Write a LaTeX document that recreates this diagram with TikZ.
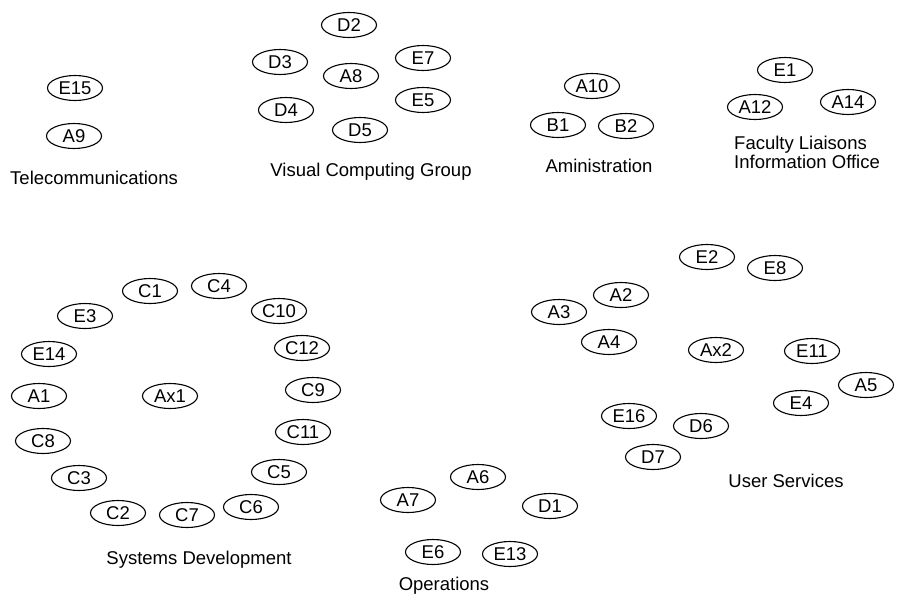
\documentclass[tikz,border=0pt]{standalone}
\usepackage{fontspec}
\setmainfont{Liberation Sans}
\usetikzlibrary{shapes.geometric}
\begin{document}
\begin{tikzpicture}[x=1pt,y=-1pt,
  member/.style={ellipse,draw=black,line width=1.1pt,minimum width=55pt,minimum height=25pt,
    inner sep=0pt,font=\fontsize{18.5}{19}\selectfont},
  group/.style={font=\fontsize{18.5}{19}\selectfont,inner sep=0pt,align=left}]
\useasboundingbox (0,0) rectangle (905,598);

% Telecommunications
\node[member] (E15) at (75,88) {E15};
\node[member] (A9)  at (74,136) {A9};
\node[group] (telecom) at (94,178) {Telecommunications};

% Visual Computing Group
\node[member] (D2) at (349,25) {D2};
\node[member] (D3) at (280,62) {D3};
\node[member] (E7) at (423,58) {E7};
\node[member] (A8) at (351,76) {A8};
\node[member] (E5) at (423,100) {E5};
\node[member] (D4) at (286,110) {D4};
\node[member] (D5) at (360,130) {D5};
\node[group] (vcg) at (371,172) {Visual Computing Group};

% Aministration
\node[member] (A10) at (592,86) {A10};
\node[member] (B1)  at (558,125) {B1};
\node[member] (B2)  at (626,126) {B2};
\node[group] (admin) at (599,166) {Aministration};

% Faculty Liaisons / Information Office
\node[member] (E1)  at (785,70) {E1};
\node[member] (A12) at (755,107) {A12};
\node[member] (A14) at (848,102) {A14};
\node[group,anchor=west] (faculty) at (734,152) {Faculty Liaisons\\Information Office};

% Systems Development
\node[member] (C1)  at (150,291) {C1};
\node[member] (C4)  at (219,286) {C4};
\node[member] (C10) at (279,311) {C10};
\node[member] (E3)  at (85,316) {E3};
\node[member] (C12) at (302,348) {C12};
\node[member] (E14) at (49,354) {E14};
\node[member] (A1)  at (39,396) {A1};
\node[member] (Ax1) at (170,396) {Ax1};
\node[member] (C9)  at (313,390) {C9};
\node[member] (C8)  at (43,441) {C8};
\node[member] (C11) at (303,432) {C11};
\node[member] (C3)  at (79,478) {C3};
\node[member] (C5)  at (279,472) {C5};
\node[member] (C2)  at (118,513) {C2};
\node[member] (C7)  at (187,515) {C7};
\node[member] (C6)  at (251,507) {C6};
\node[group] (sysdev) at (199,560) {Systems Development};

% User Services
\node[member] (E2)  at (707,257) {E2};
\node[member] (E8)  at (775,268) {E8};
\node[member] (A2)  at (621,295) {A2};
\node[member] (A3)  at (559,312) {A3};
\node[member] (A4)  at (609,342) {A4};
\node[member] (Ax2) at (716,350) {Ax2};
\node[member] (E11) at (812,351) {E11};
\node[member] (A5)  at (866,385) {A5};
\node[member] (E4)  at (801,403) {E4};
\node[member] (E16) at (629,416) {E16};
\node[member] (D6)  at (701,426) {D6};
\node[member] (D7)  at (653,457) {D7};
\node[group] (usersvc) at (786,481) {User Services};

% Operations
\node[member] (A6)  at (478,477) {A6};
\node[member] (A7)  at (408,500) {A7};
\node[member] (D1)  at (550,506) {D1};
\node[member] (E6)  at (433,552) {E6};
\node[member] (E13) at (510,554) {E13};
\node[group] (ops) at (444,586) {Operations};
\end{tikzpicture}
\end{document}
